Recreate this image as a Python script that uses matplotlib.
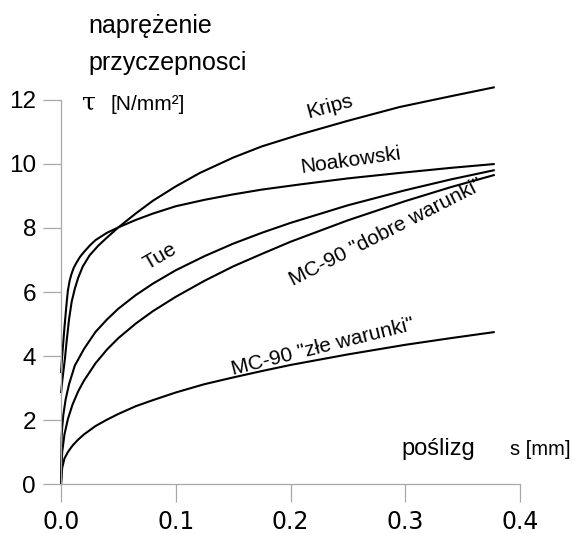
import numpy as np
import matplotlib.pyplot as plt

plt.rcParams['font.family'] = ['Liberation Sans', 'DejaVu Sans']

# poślizg s [mm] / naprężenie tau [N/mm2]
krips_s = [0, 0.001, 0.002, 0.0035, 0.005, 0.007, 0.0093, 0.012, 0.015, 0.019, 0.025,
           0.0325, 0.04, 0.05, 0.065, 0.08, 0.1, 0.121, 0.15, 0.175, 0.208, 0.25,
           0.295, 0.34, 0.378]
krips_t = [2.84, 3.2, 3.5, 3.95, 4.5, 5.15, 5.7, 6.1, 6.45, 6.8, 7.15,
           7.45, 7.7, 8.02, 8.45, 8.85, 9.3, 9.72, 10.2, 10.55, 10.92, 11.35,
           11.78, 12.12, 12.4]

noak_s = [0, 0.0005, 0.001, 0.002, 0.003, 0.004, 0.005, 0.006, 0.0075, 0.009, 0.011,
          0.0135, 0.0166, 0.02, 0.025, 0.03, 0.04, 0.05, 0.065, 0.08, 0.1, 0.125,
          0.15, 0.175, 0.208, 0.25, 0.295, 0.34, 0.378]
noak_t = [3.47, 3.75, 4.0, 4.45, 4.9, 5.3, 5.7, 6.05, 6.35, 6.55, 6.75,
          6.92, 7.1, 7.25, 7.45, 7.62, 7.85, 8.02, 8.25, 8.45, 8.68, 8.88,
          9.05, 9.2, 9.36, 9.55, 9.72, 9.88, 10.0]

tue_s = [0, 0.0005, 0.001, 0.002, 0.004, 0.007, 0.012, 0.02, 0.03, 0.04, 0.05,
         0.065, 0.08, 0.1, 0.125, 0.15, 0.175, 0.2, 0.25, 0.3, 0.34, 0.378]
tue_t = [0, 1.44, 1.77, 2.16, 2.64, 3.12, 3.7, 4.22, 4.75, 5.14, 5.48,
         5.9, 6.26, 6.68, 7.12, 7.51, 7.85, 8.16, 8.71, 9.18, 9.52, 9.81]

dobre_s = [0, 0.001, 0.003, 0.006, 0.01, 0.015, 0.02, 0.03, 0.04, 0.05, 0.065,
           0.08, 0.1, 0.125, 0.15, 0.175, 0.2, 0.25, 0.3, 0.34, 0.378]
dobre_t = [0, 1.0, 1.55, 2.03, 2.48, 2.9, 3.23, 3.77, 4.2, 4.56, 5.01,
           5.4, 5.85, 6.35, 6.8, 7.19, 7.57, 8.24, 8.84, 9.28, 9.66]

zle_s = [0, 0.001, 0.003, 0.006, 0.01, 0.015, 0.02, 0.03, 0.04, 0.05, 0.065,
         0.08, 0.1, 0.125, 0.15, 0.175, 0.2, 0.25, 0.3, 0.34, 0.378]
zle_t = [0, 0.5, 0.8, 1.0, 1.2, 1.39, 1.55, 1.81, 2.01, 2.19, 2.43,
         2.62, 2.86, 3.12, 3.33, 3.53, 3.72, 4.05, 4.35, 4.56, 4.75]

xticks = [0.0, 0.1, 0.2, 0.3, 0.4]
yticks = [0, 2, 4, 6, 8, 10, 12]

fig = plt.figure(figsize=(5.73, 5.33), dpi=100)
ax = fig.add_axes([0.1065, 0.0919, 0.8010, 0.7205])

for s, t in [(krips_s, krips_t), (noak_s, noak_t), (tue_s, tue_t),
             (dobre_s, dobre_t), (zle_s, zle_t)]:
    ax.plot(s, t, color='black', lw=1.5, solid_capstyle='butt', clip_on=False)

ax.set_xlim(0, 0.4)
ax.set_ylim(0, 12)
ax.set_xticks(xticks)
ax.set_yticks(yticks)
ax.set_xticklabels(['%.1f' % v for v in xticks], family='DejaVu Sans', fontsize=17)
ax.set_yticklabels([str(v) for v in yticks], fontsize=17.5)
ax.tick_params(axis='both', direction='out', length=13, width=0.9, color='#a8a8a8')
ax.tick_params(axis='x', pad=6)
ax.tick_params(axis='y', pad=5)
for side in ['top', 'right']:
    ax.spines[side].set_visible(False)
for side in ['left', 'bottom']:
    ax.spines[side].set_color('#a8a8a8')
    ax.spines[side].set_linewidth(0.9)

# curve labels
ax.text(0.234, 11.78, 'Krips', fontsize=15, rotation=15, ha='center', va='center')
ax.text(0.252, 10.1, 'Noakowski', fontsize=15, rotation=8, ha='center', va='center')
ax.text(0.086, 7.1, 'Tue', fontsize=15, rotation=30, ha='center', va='center')
ax.text(0.283, 7.85, 'MC-90 "dobre warunki"', fontsize=15, rotation=27,
        ha='center', va='center')
ax.text(0.228, 4.28, 'MC-90 "złe warunki"', fontsize=15, rotation=14,
        ha='center', va='center')

# axis titles
fig.text(0.155, 0.938, 'naprężenie', fontsize=18, va='baseline')
fig.text(0.155, 0.869, 'przyczepnosci', fontsize=18, va='baseline')
fig.text(0.143, 0.794, 'τ', family='DejaVu Serif', fontsize=18, va='baseline')
fig.text(0.192, 0.794, '[N/mm²]', fontsize=15, va='baseline')
fig.text(0.700, 0.146, 'poślizg', fontsize=17, va='baseline')
fig.text(0.890, 0.146, 's [mm]', fontsize=14.5, va='baseline')

fig.savefig('out.png', dpi=100)
